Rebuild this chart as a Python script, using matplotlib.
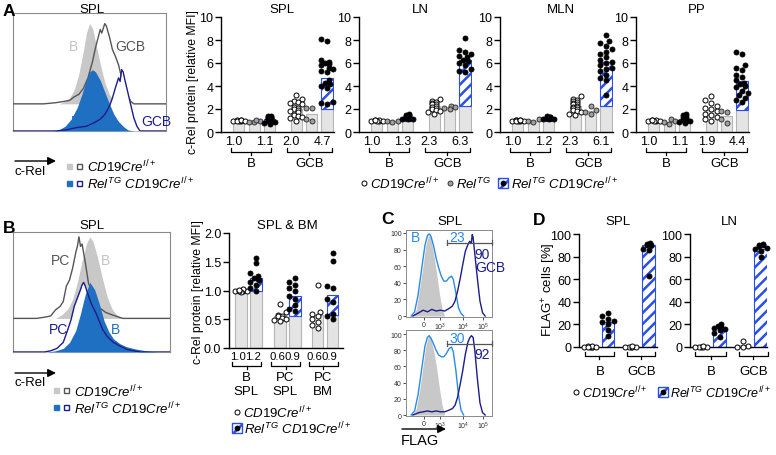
import numpy as np
import matplotlib
matplotlib.use("Agg")
import matplotlib.pyplot as plt
from matplotlib.patches import Rectangle

W, H = 776, 456

plt.rcParams['font.family'] = ['Liberation Sans', 'DejaVu Sans']
plt.rcParams['mathtext.fontset'] = 'custom'
plt.rcParams['mathtext.rm'] = 'Liberation Sans'
plt.rcParams['mathtext.it'] = 'Liberation Sans:italic'
plt.rcParams['hatch.linewidth'] = 1.8

# colours
BAR_GRAY = '#e4e4e4'
BAR_EDGE = '#b4b4b4'
HATCH_BLUE = '#2a4ee8'
FILL_BLUE = '#1f6fc2'
NAVY = '#1c1c8c'
LIGHT_BLUE = '#2a8be6'
HIST_GRAY = '#c8c8c8'
LINE_GRAY = '#555555'

FS = 9          # tick / number labels
FS_T = 9.5      # titles, group labels
FS_L = 9.5      # legends

# ---------------- data ----------------
# panel A: c-Rel protein [relative MFI]
# order: B CD19Cre, B RelTG, B RelTG CD19Cre, GCB CD19Cre, GCB RelTG, GCB RelTG CD19Cre
spl_means = [1.0, 0.9, 1.1, 2.0, 1.6, 4.7]
spl_pts = [
    [1.0, 1.02, 0.98, 1.03, 0.97, 1.0, 1.01, 0.99],
    [0.85, 0.9, 0.95, 1.02],
    [1.42, 1.38, 1.32, 1.28, 1.25, 1.2, 1.18, 1.15, 1.12, 1.1, 1.08, 1.05, 1.0, 0.95, 0.9, 0.85, 0.75, 0.7],
    [3.2, 2.9, 2.7, 2.6, 2.5, 2.4, 2.2, 2.1, 2.0, 1.9, 1.8, 1.7, 1.5, 1.4, 1.3, 1.2, 1.0],
    [2.1, 2.1, 1.1, 1.0],
    [8.1, 7.9, 6.3, 6.1, 6.0, 5.9, 5.8, 5.6, 5.5, 5.3, 5.2, 4.5, 4.3, 4.2, 4.0, 3.8, 2.6, 2.5, 2.4],
]
spl_labels = ['1.0', '1.1', '2.0', '4.7']

ln_means = [1.0, 0.95, 1.3, 2.3, 2.2, 6.3]
ln_pts = [
    [1.0, 1.02, 0.98, 1.03, 0.97, 1.0, 1.01],
    [0.95, 0.9, 0.97],
    [1.6, 1.5, 1.45, 1.4, 1.35, 1.3, 1.28, 1.25, 1.2, 1.15, 1.12, 1.1],
    [2.9, 2.7, 2.6, 2.5, 2.45, 2.4, 2.3, 2.2, 2.1, 2.0, 1.9, 1.8, 1.7, 1.6],
    [2.3, 2.2, 2.1, 2.0],
    [8.2, 7.1, 7.0, 6.8, 6.6, 6.5, 6.3, 6.2, 6.0, 5.8, 5.5, 5.3, 5.2],
]
ln_labels = ['1.0', '1.3', '2.3', '6.3']

mln_means = [1.0, 1.0, 1.2, 2.3, 1.8, 6.1]
mln_pts = [
    [1.0, 1.02, 0.98, 1.03, 0.97, 1.0, 1.01, 0.99, 1.02],
    [1.1, 1.0, 0.9],
    [1.35, 1.32, 1.3, 1.28, 1.25, 1.22, 1.2, 1.18, 1.15, 1.12, 1.1],
    [3.1, 2.9, 2.8, 2.7, 2.6, 2.5, 2.4, 2.4, 2.3, 2.2, 2.2, 2.1, 2.0, 1.9, 1.8, 1.7, 1.6, 1.5],
    [2.3, 1.9, 1.7, 1.6],
    [8.4, 7.9, 7.7, 7.5, 7.2, 7.0, 6.8, 6.5, 6.3, 6.1, 6.0, 5.8, 5.6, 5.5, 5.3, 5.0, 4.7, 4.5, 3.2],
]
mln_labels = ['1.0', '1.2', '2.3', '6.1']

pp_means = [1.0, 0.9, 1.1, 1.9, 1.4, 4.4]
pp_pts = [
    [1.0, 1.02, 0.98, 1.03, 0.97, 1.0, 1.01],
    [1.1, 1.0, 0.9, 0.7],
    [1.6, 1.5, 1.35, 1.3, 1.2, 1.15, 1.1, 1.05, 1.0, 0.95, 0.9, 0.8],
    [3.1, 2.8, 2.5, 2.3, 2.1, 2.0, 1.8, 1.6, 1.5, 1.3, 1.1, 1.0],
    [1.8, 1.7, 1.1, 0.8],
    [7.0, 6.8, 5.8, 5.6, 5.4, 5.0, 4.8, 4.5, 4.3, 4.2, 4.0, 3.9, 3.6, 3.4, 3.2, 3.0, 2.8, 2.6],
]
pp_labels = ['1.0', '1.1', '1.9', '4.4']

# panel B: c-Rel protein, SPL & BM
# order: B SPL CD19Cre, B SPL RelTG CD19Cre, PC SPL ..., PC BM ...
b_means = [1.0, 1.22, 0.56, 0.9, 0.58, 0.93]
b_pts = [
    [1.0, 1.01, 0.99, 1.0, 1.02, 0.98, 1.0, 1.01],
    [1.57, 1.47, 1.3, 1.25, 1.22, 1.2, 1.18, 1.15, 1.1, 1.05, 1.0],
    [0.77, 0.62, 0.58, 0.56, 0.55, 0.52, 0.5, 0.48, 0.47],
    [1.22, 1.15, 1.1, 1.05, 1.0, 0.9, 0.85, 0.75, 0.68, 0.65],
    [1.1, 0.63, 0.6, 0.55, 0.5, 0.45, 0.4, 0.35],
    [1.65, 1.52, 1.07, 1.05, 0.85, 0.8, 0.6, 0.55, 0.5],
]
b_labels = ['1.0', '1.2', '0.6', '0.9', '0.6', '0.9']
b_groups = ['B\nSPL', 'PC\nSPL', 'PC\nBM']

# panel D: FLAG+ cells [%]; order: B CD19Cre, B RelTG CD19Cre, GCB CD19Cre, GCB RelTG CD19Cre
d_spl_means = [0.3, 22.5, 0.3, 90.0]
d_spl_pts = [
    [0, 0.5, 0, 0.3, 0, 0.6, 0.2, 0],
    [30, 27, 25, 23, 22, 20, 15, 10],
    [0, 0.4, 0, 0.3, 0, 0.5],
    [92, 91, 91, 90, 90, 87, 86, 63],
]
d_ln_means = [0.3, 17.0, 1.5, 87.0]
d_ln_pts = [
    [0, 0.4, 0, 0.3, 0, 0.5],
    [20, 19, 18, 17, 16, 15, 12, 9],
    [5, 1, 0, 0],
    [91, 90, 90, 89, 88, 87, 85, 80],
]

# histograms (x: position across plot in %, y: height above own baseline)
a_b_ctrl_x = [30, 34, 37, 40, 43, 46, 48, 50, 52, 54, 57, 60, 63, 66, 69, 72]
a_b_ctrl_y = [0, 0.02, 0.05, 0.12, 0.25, 0.45, 0.6, 0.68, 0.64, 0.52, 0.34, 0.18, 0.08, 0.03, 0.01, 0]
a_gcb_ctrl_x = [0, 20, 28, 33, 37, 40, 43, 46, 49, 52, 54, 56, 57, 58, 60, 61, 63, 65, 67, 69, 71, 73, 75, 77, 79, 100]
a_gcb_ctrl_y = [0, 0, 0.01, 0.02, 0.03, 0.06, 0.08, 0.13, 0.22, 0.36, 0.48, 0.58, 0.63, 0.6, 0.68, 0.66, 0.57, 0.46, 0.40, 0.33, 0.22, 0.15, 0.07, 0.02, 0, 0]
a_b_tg_x = [26, 30, 34, 38, 42, 45, 48, 50, 52, 54, 57, 60, 63, 66, 69, 72, 75, 79]
a_b_tg_y = [0, 0.01, 0.04, 0.10, 0.20, 0.31, 0.43, 0.50, 0.52, 0.50, 0.43, 0.33, 0.23, 0.14, 0.08, 0.04, 0.01, 0]
a_gcb_tg_x = [0, 28, 35, 42, 48, 53, 57, 60, 63, 65, 67, 69, 70, 71, 72, 73, 75, 77, 79, 81, 83, 100]
a_gcb_tg_y = [0, 0, 0.01, 0.03, 0.04, 0.07, 0.1, 0.14, 0.21, 0.28, 0.37, 0.45, 0.42, 0.52, 0.50, 0.44, 0.33, 0.22, 0.11, 0.04, 0, 0]

b_b_ctrl_x = [27, 31, 35, 38, 41, 44, 47, 49, 51, 54, 57, 60, 63, 66, 70]
b_b_ctrl_y = [0, 0.03, 0.08, 0.16, 0.30, 0.48, 0.63, 0.68, 0.64, 0.50, 0.33, 0.18, 0.08, 0.03, 0]
b_pc_ctrl_x = [0, 15, 20, 24, 27, 30, 32, 34, 36, 38, 40, 41, 42, 43, 44, 46, 48, 51, 55, 59, 63, 70, 100]
b_pc_ctrl_y = [0, 0, 0.01, 0.02, 0.07, 0.1, 0.14, 0.27, 0.32, 0.42, 0.55, 0.6, 0.68, 0.6, 0.62, 0.47, 0.30, 0.18, 0.09, 0.05, 0.03, 0, 0]
b_b_tg_x = [22, 27, 32, 36, 40, 43, 46, 49, 52, 55, 58, 61, 64, 68, 72, 78, 85, 92]
b_b_tg_y = [0, 0.01, 0.03, 0.08, 0.18, 0.32, 0.48, 0.58, 0.52, 0.40, 0.26, 0.17, 0.11, 0.07, 0.045, 0.025, 0.01, 0]
b_pc_tg_x = [0, 20, 24, 28, 32, 35, 37, 39, 41, 43, 44, 45, 46, 48, 50, 53, 57, 60, 64, 68, 73, 81, 100]
b_pc_tg_y = [0, 0, 0.01, 0.03, 0.08, 0.19, 0.27, 0.38, 0.45, 0.52, 0.56, 0.58, 0.55, 0.47, 0.40, 0.32, 0.19, 0.13, 0.08, 0.05, 0.02, 0, 0]

# panel C: FLAG histograms (% of max)
c_x_gray = [8, 12, 16, 20, 23, 26, 28, 30, 33, 36, 39, 42, 45]
c_x_b = [6, 10, 14, 18, 22, 25, 27, 29, 32, 35, 38, 41, 44, 47, 50, 53, 55, 58, 61, 64, 67]
c_x_gcb = [8, 15, 20, 25, 30, 35, 40, 45, 50, 54, 57, 60, 63, 66, 69, 72, 74, 76, 77, 78, 80, 83, 86, 89, 92]
c1_gray = [0, 8, 34, 62, 85, 97, 96, 88, 70, 48, 26, 8, 0]
c1_b = [0, 5, 25, 55, 85, 97, 99, 96, 85, 70, 58, 48, 42, 42, 46, 48, 44, 28, 10, 3, 0]
c1_gcb = [0, 4, 7, 5, 8, 6, 7, 6, 9, 12, 18, 30, 45, 62, 78, 86, 90, 88, 98, 95, 75, 45, 18, 4, 0]
c2_gray = [0, 8, 32, 62, 85, 97, 97, 90, 75, 55, 32, 12, 0]
c2_b = [0, 5, 25, 55, 85, 96, 98, 95, 88, 80, 74, 72, 72, 76, 82, 84, 78, 55, 25, 6, 0]
c2_gcb = [0, 3, 4, 5, 4, 5, 4, 4, 6, 8, 12, 22, 38, 55, 75, 90, 95, 98, 97, 96, 80, 45, 15, 3, 0]
c1_gate_pct = ['23', '90']
c2_gate_pct = ['30', '92']
c_gate_x = [48, 100]
c_tick_pos = [21, 40, 66, 90]
c_tick_lab = ['0', '$10^3$', '$10^4$', '$10^5$']

# ---------------- helpers ----------------
fig = plt.figure(figsize=(W / 100, H / 100), dpi=100)


def px_rect(x0, y0, x1, y1):
    return [x0 / W, 1 - y1 / H, (x1 - x0) / W, (y1 - y0) / H]


def ftext(x, y, s, **kw):
    kw.setdefault('ha', 'center')
    kw.setdefault('va', 'center')
    kw.setdefault('fontsize', FS_T)
    fig.text(x / W, 1 - y / H, s, **kw)


def yax(ax, y_px):
    # pixel row -> axes fraction for ax
    pos = ax.get_position()
    return ((1 - y_px / H) - pos.y0) / pos.height


def swarm(vals, ppx, ppy, d=5.2, max_px=6.0):
    vals = np.asarray(vals, dtype=float)
    offs = np.zeros(len(vals))
    placed = []
    step = d * 0.55
    cands = [0.0]
    for k in range(1, 8):
        cands += [-k * step, k * step]
    for i in np.argsort(vals):
        y = vals[i] * ppy
        pick = None
        for c in cands:
            if abs(c) > max_px:
                continue
            if all((c - px) ** 2 + (y - py) ** 2 >= d * d for px, py in placed):
                pick = c
                break
        if pick is None:
            pick = cands[(len(placed) % 2) + 1] * 0.6
        offs[i] = pick / ppx
        placed.append((pick, y))
    return offs


PT = {
    'ctrl': dict(s=13, facecolor='white', edgecolor='black', linewidths=0.7),
    'tg': dict(s=13, facecolor='#a0a0a0', edgecolor='#222222', linewidths=0.6),
    'dbl': dict(s=13, facecolor='black', edgecolor='black', linewidths=0.6),
}


def style_bar_axes(ax, pad=1.5):
    for sp in ['top', 'right']:
        ax.spines[sp].set_visible(False)
    for sp in ['left', 'bottom']:
        ax.spines[sp].set_linewidth(1.0)
    ax.tick_params(axis='y', direction='out', length=4, width=1, labelsize=FS, pad=pad)
    ax.set_xticks([])
    ax.patch.set_alpha(0)


def draw_bars(ax, xs, means, kinds, base, width):
    for x, m, k, b in zip(xs, means, kinds, base):
        if k == 'dbl':
            if b > 0:
                ax.bar(x, b, width=width, color=BAR_GRAY, edgecolor=BAR_EDGE, lw=0.8, zorder=1)
            ax.bar(x, m - b, bottom=b, width=width, color='white', edgecolor=HATCH_BLUE,
                   hatch='///', lw=0.8, zorder=1)
        else:
            ax.bar(x, m, width=width, color=BAR_GRAY, edgecolor=BAR_EDGE, lw=0.8, zorder=1)


def draw_points(ax, xs, pts, kinds, ppx, ppy):
    for x, vals, k in zip(xs, pts, kinds):
        offs = swarm(vals, ppx, ppy)
        ax.scatter(x + offs, vals, zorder=3, clip_on=False, **PT[k])


def bracket(ax, x0, x1, y_px, up=4, down=3):
    tr = ax.get_xaxis_transform()
    yb = yax(ax, y_px)
    yt = yax(ax, y_px - up)
    yd = yax(ax, y_px + down)
    ax.plot([x0, x0, x1, x1], [yt, yb, yb, yt], transform=tr, color='black', lw=0.9, clip_on=False)
    xm = (x0 + x1) / 2
    ax.plot([xm, xm], [yb, yd], transform=tr, color='black', lw=0.9, clip_on=False)


def under(ax, x, y_px, s, **kw):
    ax.text(x, yax(ax, y_px), s, transform=ax.get_xaxis_transform(), ha='center', va='center', **kw)


# ---------------- panel A bar charts ----------------
a_pos = [0, 1, 2, 3.7, 4.7, 5.7]
a_kinds = ['ctrl', 'tg', 'dbl', 'ctrl', 'tg', 'dbl']
a_sets = [('SPL', spl_means, spl_pts, spl_labels, 221),
          ('LN', ln_means, ln_pts, ln_labels, 359),
          ('MLN', mln_means, mln_pts, mln_labels, 500),
          ('PP', pp_means, pp_pts, pp_labels, 636)]

for title, means, pts, labels, left in a_sets:
    ax = fig.add_axes(px_rect(left, 18, left + 113, 133))
    base = [0, 0, means[0], 0, 0, means[3]]
    draw_bars(ax, a_pos, means, a_kinds, base, 0.72)
    draw_points(ax, a_pos, pts, a_kinds, 15.5, 11.5)
    ax.set_xlim(-1.15, 6.15)
    ax.set_ylim(0, 10)
    ax.set_yticks(range(0, 11, 2))
    style_bar_axes(ax)
    for xi, lab in zip([a_pos[0], a_pos[2], a_pos[3], a_pos[5]], labels):
        under(ax, xi - 0.3, 142, lab, fontsize=FS)
    bracket(ax, a_pos[0] - 0.5, a_pos[2] + 0.05, 153)
    bracket(ax, a_pos[3] - 0.6, a_pos[5] + 0.3, 153)
    under(ax, (a_pos[0] + a_pos[2]) / 2 - 0.2, 164, 'B', fontsize=FS_T)
    under(ax, (a_pos[3] + a_pos[5]) / 2 - 0.15, 164, 'GCB', fontsize=FS_T)
    ftext(left + 61, 10, title)

ftext(193, 82, 'c-Rel protein [relative MFI]', rotation=90, fontsize=8.8)

# ---------------- panel B bar chart ----------------
b_pos = [0, 1, 2.6, 3.6, 5.1, 6.1]
b_kinds = ['ctrl', 'dbl'] * 3
axb = fig.add_axes(px_rect(229, 234, 343, 349))
b_base = [0, b_means[0], 0, b_means[2], 0, b_means[4]]
draw_bars(axb, b_pos, b_means, b_kinds, b_base, 0.75)
draw_points(axb, b_pos, b_pts, b_kinds, 15.0, 57.5)
axb.set_xlim(-0.8, 6.8)
axb.set_ylim(0, 2.0)
axb.set_yticks([0, 0.5, 1.0, 1.5, 2.0])
axb.set_yticklabels(['0.0', '0.5', '1.0', '1.5', '2.0'])
style_bar_axes(axb)
for xi, lab in zip(b_pos, b_labels):
    under(axb, xi - 0.2, 357, lab, fontsize=8.2)
for g, lab in enumerate(b_groups):
    x0, x1 = b_pos[2 * g], b_pos[2 * g + 1]
    bracket(axb, x0 - 0.6, x1 + 0.35, 367)
    under(axb, (x0 + x1) / 2 - 0.15, 385, lab, fontsize=FS_T, linespacing=1.3)
ftext(287, 226, 'SPL & BM')
ftext(198, 292, 'c-Rel protein [relative MFI]', rotation=90, fontsize=8.8)

# ---------------- panel D bar charts ----------------
d_pos = [0, 1, 2.25, 3.25]
d_kinds = ['ctrl', 'dbl', 'ctrl', 'dbl']
for title, means, pts, left, right, ppx in [('SPL', d_spl_means, d_spl_pts, 579, 657, 18.0),
                                           ('LN', d_ln_means, d_ln_pts, 690, 767, 18.5)]:
    ax = fig.add_axes(px_rect(left, 235, right, 348))
    draw_bars(ax, d_pos, means, d_kinds, [0, 0, 0, 0], 0.72)
    draw_points(ax, d_pos, pts, d_kinds, ppx, 1.13)
    lo = -(11.0 / ppx)
    ax.set_xlim(lo, lo + (right - left) / ppx)
    ax.set_ylim(0, 100)
    ax.set_yticks(range(0, 101, 20))
    style_bar_axes(ax)
    bracket(ax, d_pos[0] - 0.3, d_pos[1] + 0.35, 357)
    bracket(ax, d_pos[2] - 0.2, d_pos[3] + 0.35, 357)
    under(ax, (d_pos[0] + d_pos[1]) / 2 + 0.05, 372, 'B', fontsize=FS_T)
    under(ax, (d_pos[2] + d_pos[3]) / 2 + 0.1, 372, 'GCB', fontsize=FS_T)
    ftext(left + 39, 222, title)
ftext(549, 290, 'FLAG$^{+}$ cells [%]', rotation=90, fontsize=9.5)


# ---------------- histograms A / B ----------------
def hist_axes(rect):
    ax = fig.add_axes(px_rect(*rect))
    ax.set_xlim(0, 100)
    ax.set_ylim(0, 1)
    ax.set_xticks([])
    ax.set_yticks([])
    for sp in ax.spines.values():
        sp.set_color('#8a8a8a')
        sp.set_linewidth(0.8)
    return ax


def layer(ax, open_x, open_y, fill_x, fill_y, off, open_col, fill_col, z):
    oy = np.asarray(open_y) + off
    fy = np.asarray(fill_y) + off
    ax.fill_between(open_x, off, oy, color='white', lw=0, zorder=z)
    ax.fill_between(fill_x, off, fy, color=fill_col, lw=0, zorder=z + 1)
    ax.plot(open_x, oy, color=open_col, lw=1.0, zorder=z + 2)


axa = hist_axes((13, 14, 166, 132))
layer(axa, a_gcb_ctrl_x, a_gcb_ctrl_y, a_b_ctrl_x, a_b_ctrl_y, 0.23, LINE_GRAY, HIST_GRAY, 1)
layer(axa, a_gcb_tg_x, a_gcb_tg_y, a_b_tg_x, a_b_tg_y, 0.0, NAVY, FILL_BLUE, 5)
ftext(92, 10, 'SPL')
ftext(74, 47, 'B', color='#c4c4c4', fontsize=10)
ftext(130, 47, 'GCB', color=LINE_GRAY, fontsize=10)
ftext(75, 122, 'B', color=FILL_BLUE, fontsize=10)
ftext(156, 122, 'GCB', color=NAVY, fontsize=10)

axh = hist_axes((13, 233, 170, 353))
layer(axh, b_pc_ctrl_x, b_pc_ctrl_y, b_b_ctrl_x, b_b_ctrl_y, 0.28, LINE_GRAY, HIST_GRAY, 1)
layer(axh, b_pc_tg_x, b_pc_tg_y, b_b_tg_x, b_b_tg_y, 0.0, NAVY, FILL_BLUE, 5)
ftext(92, 226, 'SPL')
ftext(61, 261, 'PC', color=LINE_GRAY, fontsize=10)
ftext(106, 261, 'B', color='#c4c4c4', fontsize=10)
ftext(59, 330, 'PC', color=NAVY, fontsize=10)
ftext(115, 330, 'B', color=FILL_BLUE, fontsize=10)

# ---------------- panel C ----------------
for (y0, y1, ylim, g_y, b_y, n_y, pcts, t1, t2) in [
        (231, 318, (-1.2, 103.6), c1_gray, c1_b, c1_gcb, c1_gate_pct, (457, 238), (482, 255)),
        (331, 417, (-1.2, 105.0), c2_gray, c2_b, c2_gcb, c2_gate_pct, (457, 339), (482, 355))]:
    ax = fig.add_axes(px_rect(406, y0, 492, y1))
    ax.fill_between(c_x_gray, 0, g_y, color=HIST_GRAY, lw=0, zorder=1)
    ax.plot(c_x_b, b_y, color=LIGHT_BLUE, lw=1.0, zorder=2)
    ax.plot(c_x_gcb, n_y, color=NAVY, lw=1.0, zorder=3)
    gy = 88
    ax.plot(c_gate_x, [gy, gy], color='#555555', lw=0.9, clip_on=False, zorder=4)
    for gx in c_gate_x:
        ax.plot([gx, gx], [gy - 3, gy + 3], color='#555555', lw=0.9, clip_on=False, zorder=4)
    ax.set_xlim(0, 100)
    ax.set_ylim(*ylim)
    ax.set_yticks(range(0, 101, 20))
    ax.set_xticks(c_tick_pos)
    ax.set_xticklabels(c_tick_lab)
    ax.tick_params(labelsize=5, length=2, width=0.6, pad=1, colors='#333333')
    for sp in ax.spines.values():
        sp.set_color('#8a8a8a')
        sp.set_linewidth(0.7)
    ftext(*t1, pcts[0], color=LIGHT_BLUE, fontsize=10)
    ftext(*t2, pcts[1], color=NAVY, fontsize=10)
ftext(415, 238, 'B', color=LIGHT_BLUE, fontsize=10)
ftext(490, 268, 'GCB', color=NAVY, fontsize=10)
ftext(450, 222, 'SPL')

# ---------------- overlay: legends, arrows, letters ----------------
ov = fig.add_axes([0, 0, 1, 1], zorder=10)
ov.set_xlim(0, W)
ov.set_ylim(H, 0)
ov.axis('off')


def arrow(x0, x1, y):
    ov.annotate('', xy=(x1, y), xytext=(x0, y),
                arrowprops=dict(arrowstyle='-|>', color='black', lw=1.0, mutation_scale=12,
                                shrinkA=0, shrinkB=0))


def sq(x, y, face, edge, s=5):
    ov.add_patch(Rectangle((x - s / 2, y - s / 2), s, s, facecolor=face, edgecolor=edge, lw=1.0))


def hatch_sq(x, y):
    ov.add_patch(Rectangle((x - 5, y - 5), 10, 10, facecolor='white', edgecolor=HATCH_BLUE,
                           hatch='///', lw=1.0))
    ov.scatter([x], [y], s=10, color='black', zorder=12)


CTRL = r'$\mathit{CD19Cre}^{\mathit{I/+}}$'
TG = r'$\mathit{Rel}^{\mathit{TG}}$'
DBL = r'$\mathit{Rel}^{\mathit{TG}}\ \mathit{CD19Cre}^{\mathit{I/+}}$'

# A histogram legend
arrow(15, 56, 162)
ftext(30, 172, 'c-Rel', fontsize=FS_L)
sq(69, 167, HIST_GRAY, HIST_GRAY)
sq(79, 167, 'white', LINE_GRAY)
ftext(87, 167, CTRL, ha='left', fontsize=FS_L)
sq(69, 184, FILL_BLUE, FILL_BLUE)
sq(79, 184, 'white', NAVY)
ftext(87, 184, DBL, ha='left', fontsize=FS_L)

# A bar legend
ov.scatter([364], [184], s=13, facecolor='white', edgecolor='black', linewidths=0.7)
ftext(370, 184, CTRL, ha='left', fontsize=FS_L)
ov.scatter([450], [184], s=13, facecolor='#a0a0a0', edgecolor='#222222', linewidths=0.6)
ftext(456, 184, TG, ha='left', fontsize=FS_L)
hatch_sq(503, 184)
ftext(511, 184, DBL, ha='left', fontsize=FS_L)

# B histogram legend
arrow(15, 56, 374)
ftext(30, 383, 'c-Rel', fontsize=FS_L)
sq(56, 392, HIST_GRAY, HIST_GRAY)
sq(66, 392, 'white', LINE_GRAY)
ftext(74, 392, CTRL, ha='left', fontsize=FS_L)
sq(56, 409, FILL_BLUE, FILL_BLUE)
sq(66, 409, 'white', NAVY)
ftext(74, 409, DBL, ha='left', fontsize=FS_L)

# B bar legend
ov.scatter([237], [413], s=13, facecolor='white', edgecolor='black', linewidths=0.7)
ftext(243, 413, CTRL, ha='left', fontsize=FS_L)
hatch_sq(237, 429)
ftext(244, 429, DBL, ha='left', fontsize=FS_L)

# C axis label
arrow(402, 446, 430)
ftext(401, 441, 'FLAG', ha='left', fontsize=10.5)

# D legend
ov.scatter([576], [393], s=13, facecolor='white', edgecolor='black', linewidths=0.7)
ftext(582, 393, CTRL, ha='left', fontsize=9)
hatch_sq(663, 393)
ftext(670, 393, DBL, ha='left', fontsize=9)

# panel letters
for lx, ly, letter in [(9, 11, 'A'), (9, 229, 'B'), (388, 220, 'C'), (539, 221, 'D')]:
    ftext(lx, ly, letter, fontsize=12.5, fontweight='bold')

fig.savefig('out.png', dpi=100)
